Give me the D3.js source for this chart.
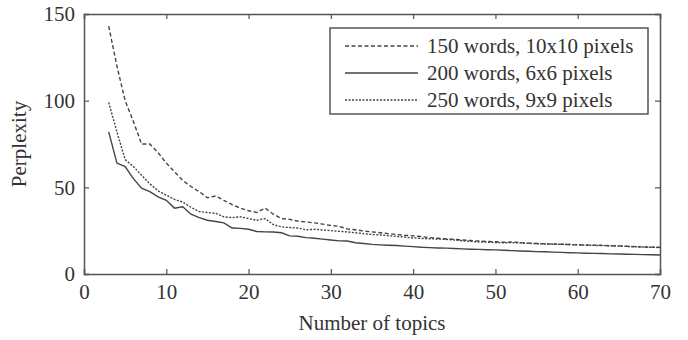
<!DOCTYPE html>
<html>
<head>
<meta charset="utf-8">
<script src="https://cdn.jsdelivr.net/npm/d3@7"></script>
<style>
  body { margin: 0; background: #fff; }
  text { font-family: "Liberation Serif", "Times New Roman", serif; fill: #333; }
</style>
</head>
<body>
<script>
// number of topics, 3..70
var topics = d3.range(3, 71);

var words150 = [143, 120, 100, 88, 75, 75, 70, 64, 59, 54, 50.5, 47.5, 44, 45, 42.5, 40, 38, 36.5, 35.5, 38,
  34.5, 32, 31.5, 30.5, 30, 29.5, 28.8, 28, 27.5, 26, 25.5, 24.8, 24.3, 23.8, 23.3, 22.8, 22.3, 22,
  21.6, 21, 20.6, 20.2, 20, 19.6, 19.3, 19, 18.8, 18.6, 18.3, 18.5, 18.1, 17.8, 17.6, 17.4, 17.3,
  17.2, 17, 16.8, 16.7, 16.6, 16.5, 16.3, 16.2, 16, 15.8, 15.6, 15.5, 15.4];

var words200 = [82, 64, 62, 55, 49.5, 47.5, 44.5, 42.5, 38, 38.8, 34.5, 32.5, 31, 30.3, 29.5, 26.5, 26.3,
  25.8, 24.5, 24.3, 24.2, 23.8, 22, 21.8, 21, 20.6, 20.1, 19.6, 19.1, 19, 18, 17.6, 17.1, 16.8, 16.6,
  16.4, 16.1, 15.8, 15.4, 15.2, 15, 14.9, 14.7, 14.5, 14.3, 14.2, 14, 13.9, 13.7, 13.5, 13.3, 13.1,
  12.9, 12.8, 12.6, 12.5, 12.3, 12.2, 12, 11.9, 11.8, 11.6, 11.5, 11.4, 11.3, 11.2, 11.1, 11];

var words250 = [99, 82, 66, 62, 57, 52, 48, 45.5, 43, 41.5, 38.5, 36, 35.5, 35, 33, 32.5, 33, 32, 31, 32,
  28.5, 27.2, 26.8, 26.5, 25.5, 25.8, 25.4, 25, 24.6, 24.3, 23.8, 23.3, 22.8, 22.5, 22.1, 21.7, 21.3,
  20.8, 20.5, 20.3, 20.2, 20, 19.6, 19.2, 18.8, 18.5, 18.3, 18.2, 18, 18.1, 17.9, 17.7, 17.5, 17.3,
  17.2, 17.1, 17, 16.8, 16.6, 16.5, 16.4, 16.3, 16.1, 15.9, 15.7, 15.5, 15.4, 15.3];

var seriesNames = ["150 words, 10x10 pixels", "200 words, 6x6 pixels", "250 words, 9x9 pixels"];
var seriesValues = [words150, words200, words250];
var dashes = ["4,2.5", null, "2,1.5"];

var xTicks = [0, 10, 20, 30, 40, 50, 60, 70];
var yTicks = [0, 50, 100, 150];

var width = 688, height = 340;
var plotLeft = 84, plotRight = 660, plotTop = 14, plotBottom = 274;

var svg = d3.select("body").append("svg")
  .attr("width", width)
  .attr("height", height);

var x = d3.scaleLinear().domain([0, 70]).range([plotLeft, plotRight]);
var y = d3.scaleLinear().domain([0, 150]).range([plotBottom, plotTop]);

var axisColor = "#555";

// frame axes with inward ticks on all four sides
svg.append("g").attr("transform", "translate(0," + plotBottom + ")")
  .call(d3.axisBottom(x).tickValues(xTicks).tickSize(-5).tickPadding(10));
svg.append("g").attr("transform", "translate(0," + plotTop + ")")
  .call(d3.axisTop(x).tickValues(xTicks).tickSize(-5).tickFormat(""));
svg.append("g").attr("transform", "translate(" + plotLeft + ",0)")
  .call(d3.axisLeft(y).tickValues(yTicks).tickSize(-5).tickPadding(9));
svg.append("g").attr("transform", "translate(" + plotRight + ",0)")
  .call(d3.axisRight(y).tickValues(yTicks).tickSize(-5).tickFormat(""));

svg.selectAll(".domain").attr("stroke", axisColor).attr("stroke-width", 1.5);
svg.selectAll(".tick line").attr("stroke", axisColor).attr("stroke-width", 1.2);
svg.selectAll(".tick text")
  .attr("font-family", "Liberation Serif, serif")
  .attr("font-size", "21px")
  .attr("fill", "#333");

// lines
var line = d3.line()
  .x(function(d, i) { return x(topics[i]); })
  .y(function(d) { return y(d); });

svg.selectAll("path.series")
  .data(seriesValues)
  .enter()
  .append("path")
  .attr("class", "series")
  .attr("d", line)
  .attr("fill", "none")
  .attr("stroke", "#444")
  .attr("stroke-width", 1.4)
  .attr("stroke-dasharray", function(d, i) { return dashes[i]; });

// axis titles
svg.append("text")
  .attr("x", (plotLeft + plotRight) / 2)
  .attr("y", 330)
  .attr("text-anchor", "middle")
  .attr("font-size", "21px")
  .text("Number of topics");

svg.append("text")
  .attr("transform", "translate(26," + ((plotTop + plotBottom) / 2) + ") rotate(-90)")
  .attr("text-anchor", "middle")
  .attr("font-size", "21px")
  .text("Perplexity");

// legend
var legend = svg.append("g");
legend.append("rect")
  .attr("x", 330).attr("y", 28)
  .attr("width", 318).attr("height", 86)
  .attr("fill", "#fff")
  .attr("stroke", axisColor)
  .attr("stroke-width", 1.5);

var rows = legend.selectAll("g.row")
  .data(seriesNames)
  .enter()
  .append("g")
  .attr("transform", function(d, i) { return "translate(0," + (46 + i * 27) + ")"; });

rows.append("line")
  .attr("x1", 345).attr("x2", 418)
  .attr("stroke", "#444")
  .attr("stroke-width", 1.4)
  .attr("stroke-dasharray", function(d, i) { return dashes[i]; });

rows.append("text")
  .attr("x", 427)
  .attr("dy", "0.35em")
  .attr("font-size", "21px")
  .text(function(d) { return d; });
</script>
</body>
</html>
